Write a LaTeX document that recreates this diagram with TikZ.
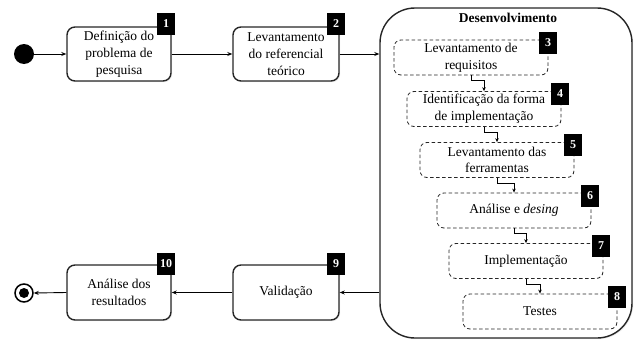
\documentclass[tikz,border=0pt]{standalone}
\usepackage{fontspec}
\setmainfont{Liberation Serif}
\usetikzlibrary{arrows.meta,shadows}
\begin{document}
\begin{tikzpicture}[x=1pt,y=-1pt,
  txt/.style={font=\fontsize{13.5}{16.7}\selectfont, align=center},
  solidbox/.style={txt, draw=black!85, line width=1.4pt, rounded corners=8pt, fill=white,
    inner sep=0pt, drop shadow={shadow xshift=1.2pt, shadow yshift=-1.2pt, opacity=0.15}},
  dashbox/.style={txt, draw=black!85, line width=0.8pt, dash pattern=on 3.5pt off 2.5pt,
    rounded corners=7pt, fill=white, inner sep=0pt, minimum width=154pt, minimum height=35pt},
  tag/.style={fill=black, text=white, font=\bfseries\fontsize{12}{12}\selectfont,
    minimum width=18pt, minimum height=22pt, inner sep=0pt},
  conn/.style={line width=0.9pt, -{Stealth[length=5pt,width=4pt]}},
  sconn/.style={line width=0.8pt, -{Stealth[length=4pt,width=3.5pt]}}
]
\useasboundingbox (0,0) rectangle (634,340);

% start and end
\node[circle, fill=black, minimum size=20pt, inner sep=0pt] (start) at (24,54) {};
\node[circle, draw, line width=1.5pt, fill=white, minimum size=18pt, inner sep=0pt] (finish) at (24,293) {};
\node[circle, fill=black, minimum size=10pt, inner sep=0pt] (finishdot) at (24,293) {};

% main boxes
\node[solidbox, minimum width=104pt, minimum height=54pt] (b1) at (119,54) {Definição do\\problema de\\pesquisa};
\node[solidbox, minimum width=106pt, minimum height=54pt] (b2) at (286,54) {Levantamento\\do referencial\\teórico};
\node[solidbox, minimum width=106pt, minimum height=55pt] (b9) at (286,292.5) {Validação};
\node[solidbox, minimum width=104pt, minimum height=55pt] (b10) at (119,292.5) {Análise dos\\resultados};

\node[tag] (t1) at (166,24) {1};
\node[tag] (t2) at (336,24) {2};
\node[tag] (t9) at (336,264) {9};
\node[tag] (t10) at (166,264) {10};

% development container
\node[draw=black!85, line width=1.4pt, rounded corners=35pt, fill=white, minimum width=252pt,
  minimum height=330pt, inner sep=0pt,
  drop shadow={shadow xshift=1.2pt, shadow yshift=-1.2pt, opacity=0.15}] (dev) at (506,173) {};
\node[font=\bfseries\fontsize{13.5}{13.5}\selectfont] (devtitle) at (508,18) {Desenvolvimento};

% dashed steps
\node[dashbox] (b3) at (471,57.5) {Levantamento de\\requisitos};
\node[dashbox] (b4) at (484,109) {Identificação da forma\\de implementação};
\node[dashbox] (b5) at (497,160) {Levantamento das\\ferramentas};
\node[dashbox] (b6) at (514,210.5) {Análise e \textit{desing}};
\node[dashbox] (b7) at (526,261) {Implementação};
\node[dashbox] (b8) at (540,311.5) {Testes};

\node[tag] (t3) at (548,43) {3};
\node[tag] (t4) at (560,94) {4};
\node[tag] (t5) at (573,145) {5};
\node[tag] (t6) at (590,196) {6};
\node[tag] (t7) at (601,246) {7};
\node[tag] (t8) at (617,297) {8};

% inner connectors
\draw[sconn] (b3.south) -- ++(0,5) -| (b4.north);
\draw[sconn] (b4.south) -- ++(0,5) -| (b5.north);
\draw[sconn] (b5.south) -- ++(0,5) -| (b6.north);
\draw[sconn] (b6.south) -- ++(0,5) -| (b7.north);
\draw[sconn] (b7.south) -- ++(0,5) -| (b8.north);

% main connectors
\draw[conn] (start) -- (b1.west);
\draw[conn] (b1.east) -- (b2.west);
\draw[conn] (b2.east) -- (b2.east -| dev.west);
\draw[conn] (dev.west |- b9.east) -- (b9.east);
\draw[conn] (b9.west) -- (b10.east);
\draw[conn] (b10.west) -- (finish.east);
\end{tikzpicture}
\end{document}
